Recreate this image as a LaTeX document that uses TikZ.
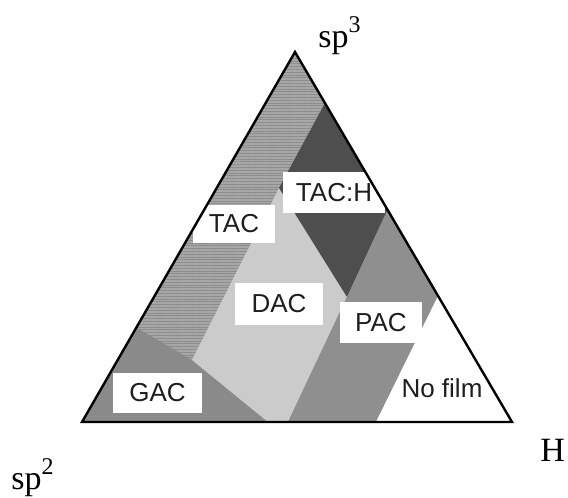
\documentclass[tikz,border=0pt]{standalone}
\usepackage{fontspec}
\setmainfont{Liberation Serif}
\setsansfont{Liberation Sans}
\usetikzlibrary{patterns.meta}
\definecolor{ink}{HTML}{1E1E1E}
\definecolor{tacfill}{HTML}{A7A7A7}
\definecolor{tacline}{HTML}{8C8C8C}
\definecolor{gacfill}{HTML}{8A8A8A}
\definecolor{dacfill}{HTML}{CBCBCB}
\definecolor{tachfill}{HTML}{4E4E4E}
\definecolor{pacfill}{HTML}{8F8F8F}

\begin{document}
\begin{tikzpicture}[
  x=.5pt,y=-.5pt,
  tag/.style={fill=white,text=ink,inner sep=0pt,
    font=\sffamily\fontsize{13}{15}\selectfont},
  corner/.style={anchor=base west,inner sep=0pt,
    font=\fontsize{17}{20}\selectfont},
  edge/.style={draw=black,line width=1.2pt}
]
  \useasboundingbox (0,0) rectangle (568,498);
  \coordinate (top) at (295,52);
  \coordinate (left) at (82,422);
  \coordinate (right) at (512,422);
  % corners of the regions
  \coordinate (gl) at (137,328);
  \coordinate (gm) at (192,360);
  \coordinate (gb) at (268,422);
  \coordinate (hl) at (279,188);
  \coordinate (ht) at (325,103);
  \coordinate (hr) at (387,211);
  \coordinate (hb) at (347,297);
  \coordinate (db) at (288,422);
  \coordinate (nt) at (438,296);
  \coordinate (nb) at (376,422);

  % TAC, striped, under everything
  \fill[tacfill,postaction={pattern={Lines[distance=1.4pt,line width=.5pt]},
    pattern color=tacline}] (top) -- (left) -- (right) -- cycle;
  \fill[gacfill] (left) -- (gl) -- (gm) -- (gb) -- cycle;
  \fill[dacfill] (hl) -- (hb) -- (db) -- (gb) -- (gm) -- cycle;
  \fill[tachfill] (ht) -- (hr) -- (hb) -- (hl) -- cycle;
  \fill[pacfill] (hr) -- (nt) -- (nb) -- (db) -- (hb) -- cycle;
  \fill[white] (nt) -- (right) -- (nb) -- cycle;

  \node[tag,minimum width=51pt,minimum height=20.5pt] (tach) at (334,192.5) {TAC:H};
  \node[tag,minimum width=41pt,minimum height=19pt] (tac) at (234,224) {TAC};
  \node[tag,minimum width=44pt,minimum height=21pt] (dac) at (279,304) {DAC};
  \node[tag,minimum width=41pt,minimum height=20.5pt] (pac) at (381,322.5) {PAC};
  \node[tag,minimum width=44.5pt,minimum height=20pt] (gac) at (157.5,393) {GAC};
  \node[tag,fill=none] (nofilm) at (442,388) {No film};

  \draw[edge] (top) -- (left) -- (right) -- cycle;

  \node[corner] (sp3) at (318,47) {sp\raisebox{.42em}{\fontsize{12}{12}\selectfont 3}};
  \node[corner] (sp2) at (11,489) {sp\raisebox{.42em}{\fontsize{12}{12}\selectfont 2}};
  \node[corner] (hyd) at (540,461) {H};
\end{tikzpicture}
\end{document}
